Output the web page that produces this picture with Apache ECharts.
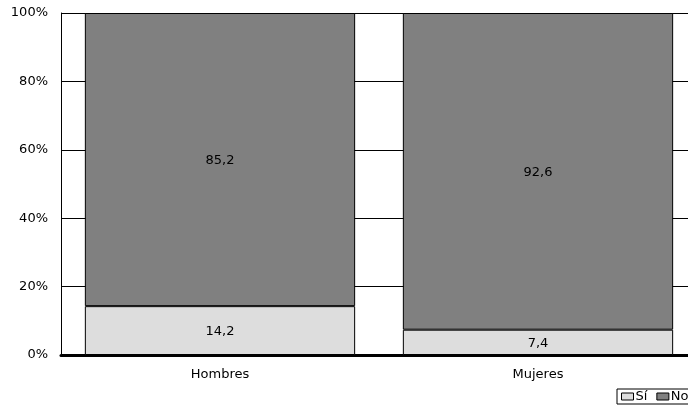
<!DOCTYPE html>
<html><head><meta charset="utf-8">
<script src="https://cdn.jsdelivr.net/npm/echarts@6/dist/echarts.min.js"></script>
<style>html,body{margin:0;padding:0;background:#fff;overflow:hidden}#c{width:700px;height:410px}</style>
</head><body><div id="c"></div>
<script>
const categories = ['Hombres', 'Mujeres'];
const siValues = [14.2, 7.4];
const noValues = [85.2, 92.6];
const yTickLabels = ['0%', '20%', '40%', '60%', '80%', '100%'];

const totals = categories.map((_, i) => siValues[i] + noValues[i]);
const fmt = v => v.toFixed(1).replace('.', ',');
const FONT = 'DejaVu Sans';
const FS = 13;

function mk(name, vals, color) {
  return {
    name: name, type: 'bar', stack: 'total',
    barCategoryGap: '15%',
    data: vals.map((v, i) => v / totals[i] * 100),
    itemStyle: { color: color, borderColor: '#000', borderWidth: 1 },
    label: { show: true, position: 'inside', offset: [0, 1], color: '#000', fontFamily: FONT, fontSize: FS,
      formatter: p => fmt(vals[p.dataIndex]) },
    emphasis: { disabled: true }
  };
}

const chart = echarts.init(document.getElementById('c'), null, { renderer: 'canvas' });
chart.setOption({
  animation: false,
  grid: { left: 61, top: 13, width: 636, height: 342, containLabel: false },
  legend: {
    data: ['Sí', 'No'], left: 617, top: 389, orient: 'horizontal',
    icon: 'rect',
    borderColor: '#000', borderWidth: 1, padding: [1, 4, 1, 4],
    itemWidth: 12, itemHeight: 7, itemGap: 9,
    textStyle: { fontFamily: FONT, fontSize: FS, color: '#000', padding: [0, 0, 0, -3] },
    itemStyle: { borderColor: '#000', borderWidth: 1 }
  },
  xAxis: {
    type: 'category', data: categories,
    axisLine: { lineStyle: { color: '#000', width: 3 } },
    axisTick: { show: false },
    axisLabel: { color: '#000', fontFamily: FONT, fontSize: FS, margin: 13 }
  },
  yAxis: {
    type: 'value', min: 0, max: 100, interval: 20,
    axisLine: { show: true, lineStyle: { color: '#000', width: 1 } },
    axisTick: { show: false },
    splitLine: { show: true, lineStyle: { color: '#000', width: 1 } },
    axisLabel: { color: '#000', fontFamily: FONT, fontSize: FS, margin: 13,
      formatter: v => yTickLabels[Math.round(v / 20)] }
  },
  series: [ mk('Sí', siValues, '#dddddd'), mk('No', noValues, '#808080') ]
});
</script></body></html>
